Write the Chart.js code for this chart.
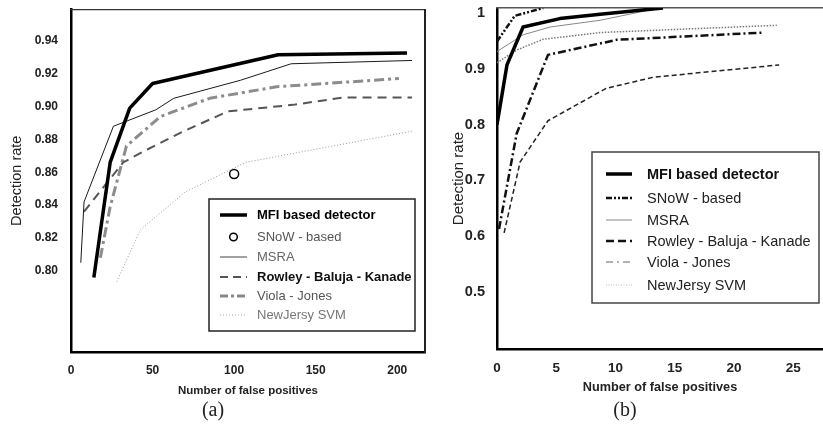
<!DOCTYPE html>
<html><head><meta charset="utf-8">
<script src="https://cdn.jsdelivr.net/npm/chart.js@4/dist/chart.umd.min.js"></script>
<style>
html,body{margin:0;padding:0;background:#fff;width:823px;height:439px;overflow:hidden;position:relative;}
canvas{position:absolute;top:0;}
#ca{left:0;} #cb{left:438px;}
.cap{position:absolute;top:398px;font-family:"Liberation Serif","DejaVu Serif",serif;font-size:20px;color:#222;transform:translateX(-50%);}
</style></head><body>
<canvas id="ca" width="438" height="400"></canvas>
<canvas id="cb" width="385" height="400"></canvas>
<div class="cap" style="left:213px">(a)</div>
<div class="cap" style="left:625px">(b)</div>
<script>
// ---------- (a) data ----------
const aXTicks = [0, 50, 100, 150, 200];
const aXTickLabels = ['0', '50', '100', '150', '200'];
const aYTicks = [0.80, 0.82, 0.84, 0.86, 0.88, 0.90, 0.92, 0.94];
const aYTickLabels = ['0.80', '0.82', '0.84', '0.86', '0.88', '0.90', '0.92', '0.94'];
const aMfiX = [14, 24, 36, 50, 127, 206];
const aMfiY = [0.796, 0.866, 0.899, 0.914, 0.9315, 0.9325];
const aSnowX = [100];
const aSnowY = [0.859];
const aMsraX = [6, 8, 26, 52, 63, 104, 135, 209];
const aMsraY = [0.805, 0.842, 0.888, 0.898, 0.905, 0.916, 0.926, 0.928];
const aRowleyX = [8, 32, 47, 67, 96, 136, 167, 209];
const aRowleyY = [0.836, 0.866, 0.874, 0.884, 0.897, 0.901, 0.9055, 0.9055];
const aViolaX = [18, 24, 34, 55, 85, 126, 201];
const aViolaY = [0.808, 0.839, 0.876, 0.894, 0.905, 0.912, 0.917];
const aSvmX = [28, 42.5, 70, 107, 209];
const aSvmY = [0.7935, 0.825, 0.848, 0.866, 0.885];

// ---------- (b) data ----------
const bXTicks = [0, 5, 10, 15, 20, 25];
const bXTickLabels = ['0', '5', '10', '15', '20', '25'];
const bYTicks = [0.5, 0.6, 0.7, 0.8, 0.9, 1.0];
const bYTickLabels = ['0.5', '0.6', '0.7', '0.8', '0.9', '1'];
const bMfiX = [0, 0.84, 2.2, 5.3, 8.7, 14.0];
const bMfiY = [0.80, 0.907, 0.975, 0.99, 0.998, 1.009];
const bSnowX = [0, 1.5, 3.9];
const bSnowY = [0.949, 0.995, 1.009];
const bMsraX = [0, 2.2, 4.5, 8.7, 13.7];
const bMsraY = [0.931, 0.961, 0.975, 0.987, 1.009];
const bRowleyX = [0.6, 1.95, 4.3, 9.2, 13.2, 23.8];
const bRowleyY = [0.606, 0.733, 0.807, 0.865, 0.885, 0.907];
const bViolaX = [0.17, 1.66, 4.3, 10.1, 22.5];
const bViolaY = [0.613, 0.784, 0.925, 0.952, 0.965];
const bSvmX = [0, 1.7, 3.9, 8.7, 23.6];
const bSvmY = [0.911, 0.934, 0.953, 0.965, 0.978];

const seriesNames = ['MFI based detector', 'SNoW - based', 'MSRA', 'Rowley - Baluja - Kanade', 'Viola - Jones', 'NewJersy SVM'];

const FONT = '"Liberation Sans", Arial, sans-serif';
const zip = (xs, ys) => xs.map((x, i) => ({x, y: ys[i]}));

function line(label, xs, ys, color, width, dash) {
  return {label, data: zip(xs, ys), borderColor: color, backgroundColor: color, borderWidth: width,
    borderDash: dash || [], pointRadius: 0, tension: 0, fill: false, borderJoinStyle: 'round'};
}

const boxLegend = {
  id: 'boxLegend',
  afterDraw(chart, args, o) {
    const ctx = chart.ctx;
    ctx.save();
    ctx.strokeStyle = o.borderColor; ctx.lineWidth = o.borderWidth;
    ctx.fillStyle = '#fff';
    ctx.fillRect(o.box[0], o.box[1], o.box[2], o.box[3]);
    ctx.strokeRect(o.box[0], o.box[1], o.box[2], o.box[3]);
    o.items.forEach((it, i) => {
      const y = o.rows[i];
      const s = it.sample;
      ctx.save();
      if (s.type === 'circle') {
        ctx.beginPath();
        ctx.arc((o.sx0 + o.sx1) / 2, y, s.r, 0, Math.PI * 2);
        ctx.fillStyle = '#fff'; ctx.fill();
        ctx.strokeStyle = s.color; ctx.lineWidth = s.width; ctx.setLineDash([]); ctx.stroke();
      } else {
        ctx.beginPath();
        ctx.moveTo(o.sx0, y); ctx.lineTo(o.sx1, y);
        ctx.strokeStyle = s.color; ctx.lineWidth = s.width; ctx.setLineDash(s.dash || []);
        ctx.stroke();
      }
      ctx.restore();
      ctx.fillStyle = it.color;
      ctx.font = (it.bold ? 'bold ' : '') + o.fontSize + 'px ' + FONT;
      ctx.textBaseline = 'middle'; ctx.textAlign = 'left';
      ctx.fillText(it.label, o.tx, y + 0.5);
    });
    ctx.restore();
  }
};

function noPad(s) { s.paddingTop = 0; s.paddingBottom = 0; s.paddingLeft = 0; s.paddingRight = 0; }

function frameAxis(pos, color, width) {
  const horiz = pos === 'top' || pos === 'bottom';
  return {type: 'linear', position: pos, display: true, min: 0, max: 1,
    grid: {display: false, drawTicks: false}, ticks: {display: false},
    border: {display: true, color, width},
    afterFit: s => { if (horiz) s.height = 0; else s.width = 0; noPad(s); }};
}

// ---------- chart (a) ----------
new Chart(document.getElementById('ca'), {
  type: 'line',
  data: {datasets: [
    line(seriesNames[0], aMfiX, aMfiY, '#000', 3.5),
    {label: seriesNames[1], data: zip(aSnowX, aSnowY), showLine: false, pointRadius: 4.5, pointStyle: 'circle',
      pointBorderColor: '#000', pointBackgroundColor: '#fff', pointBorderWidth: 1.5, borderColor: '#000'},
    line(seriesNames[2], aMsraX, aMsraY, '#1a1a1a', 1),
    line(seriesNames[3], aRowleyX, aRowleyY, '#555', 2, [9, 6]),
    line(seriesNames[4], aViolaX, aViolaY, '#8c8c8c', 3, [10, 4, 3, 4]),
    line(seriesNames[5], aSvmX, aSvmY, '#9a9a9a', 1, [1, 2])
  ]},
  options: {
    responsive: false, animation: false, devicePixelRatio: 1,
    layout: {padding: {top: 9.5, right: 13, left: 0, bottom: 0}},
    plugins: {legend: {display: false}, tooltip: {enabled: false},
      boxLegend: {
        box: [209, 199, 206, 132], borderColor: '#222', borderWidth: 1.5,
        rows: [215, 237, 257, 277, 296, 315], sx0: 220, sx1: 247, tx: 257, fontSize: 13,
        items: [
          {label: seriesNames[0], color: '#000', bold: true, sample: {color: '#000', width: 3.5}},
          {label: seriesNames[1], color: '#555', sample: {type: 'circle', r: 3.8, color: '#000', width: 1.5}},
          {label: seriesNames[2], color: '#666', sample: {color: '#444', width: 1}},
          {label: seriesNames[3], color: '#111', bold: true, sample: {color: '#555', width: 2, dash: [8, 5]}},
          {label: seriesNames[4], color: '#555', sample: {color: '#888', width: 3, dash: [8, 3, 3, 3]}},
          {label: seriesNames[5], color: '#777', sample: {color: '#aaa', width: 1, dash: [1, 2]}}
        ]}},
    scales: {
      x: {type: 'linear', min: 0, max: 217,
        afterBuildTicks: s => { s.ticks = aXTicks.map(v => ({value: v})); },
        afterFit: s => { s.height = 48; noPad(s); },
        grid: {display: false, drawTicks: false},
        border: {display: true, color: '#000', width: 2.5},
        ticks: {padding: 11, color: '#222', font: {family: FONT, size: 12, weight: 'bold'},
          maxRotation: 0, autoSkip: false, callback: (v, i) => aXTickLabels[i]},
        title: {display: true, text: 'Number of false positives', color: '#222',
          font: {family: FONT, size: 11.5, weight: 'bold'}, padding: {top: 0, bottom: 2}}},
      y: {type: 'linear', min: 0.7507, max: 0.959,
        afterBuildTicks: s => { s.ticks = aYTicks.map(v => ({value: v})); },
        afterFit: s => { s.width = 71; noPad(s); },
        grid: {display: false, drawTicks: false},
        border: {display: true, color: '#000', width: 2.5},
        ticks: {padding: 13, color: '#222', font: {family: FONT, size: 12, weight: 'bold'},
          autoSkip: false, callback: (v, i) => aYTickLabels[i]},
        title: {display: true, text: 'Detection rate', color: '#222',
          font: {family: FONT, size: 14.5}, padding: {top: 8.3, bottom: 0}}},
      xTop: frameAxis('top', '#333', 1.2),
      yRight: frameAxis('right', '#222', 2)
    }
  },
  plugins: [boxLegend]
});

// ---------- chart (b) ----------
new Chart(document.getElementById('cb'), {
  type: 'line',
  data: {datasets: [
    line(seriesNames[0], bMfiX, bMfiY, '#000', 3.5),
    line(seriesNames[1], bSnowX, bSnowY, '#111', 2.5, [6, 2, 2, 2, 2, 2]),
    line(seriesNames[2], bMsraX, bMsraY, '#888', 1),
    line(seriesNames[3], bRowleyX, bRowleyY, '#222', 1.5, [5, 3]),
    line(seriesNames[4], bViolaX, bViolaY, '#111', 2.5, [8, 3, 2, 3]),
    line(seriesNames[5], bSvmX, bSvmY, '#777', 1.5, [1.5, 1.5])
  ]},
  options: {
    responsive: false, animation: false, devicePixelRatio: 1,
    layout: {padding: {top: 8, right: 0, left: 0, bottom: 0}},
    plugins: {legend: {display: false}, tooltip: {enabled: false},
      boxLegend: {
        box: [154, 152, 227, 151], borderColor: '#444', borderWidth: 1.5,
        rows: [174, 198, 220, 241, 262, 285], sx0: 168, sx1: 194, tx: 209, fontSize: 14.5,
        items: [
          {label: seriesNames[0], color: '#111', bold: true, sample: {color: '#000', width: 3.5}},
          {label: seriesNames[1], color: '#222', sample: {color: '#111', width: 2.5, dash: [6, 2, 2, 2, 2, 2]}},
          {label: seriesNames[2], color: '#222', sample: {color: '#888', width: 1}},
          {label: seriesNames[3], color: '#222', sample: {color: '#111', width: 2.5, dash: [8, 4]}},
          {label: seriesNames[4], color: '#222', sample: {color: '#999', width: 1.5, dash: [7, 4, 2, 4]}},
          {label: seriesNames[5], color: '#222', sample: {color: '#bbb', width: 1, dash: [1, 1.5]}}
        ]}},
    scales: {
      x: {type: 'linear', min: 0, max: 27.5,
        afterBuildTicks: s => { s.ticks = bXTicks.map(v => ({value: v})); },
        afterFit: s => { s.height = 51; noPad(s); },
        grid: {display: false, drawTicks: false},
        border: {display: true, color: '#000', width: 2.5},
        ticks: {padding: 11, color: '#222', font: {family: FONT, size: 13.5, weight: 'bold'},
          maxRotation: 0, autoSkip: false, callback: (v, i) => bXTickLabels[i]},
        title: {display: true, text: 'Number of false positives', color: '#222',
          font: {family: FONT, size: 12.7, weight: 'bold'}, padding: {top: 0, bottom: 4.4}}},
      y: {type: 'linear', min: 0.398, max: 1.009,
        afterBuildTicks: s => { s.ticks = bYTicks.map(v => ({value: v})); },
        afterFit: s => { s.width = 59; noPad(s); },
        grid: {display: false, drawTicks: false},
        border: {display: true, color: '#000', width: 2.5},
        ticks: {padding: 12, color: '#222', font: {family: FONT, size: 14.5, weight: 'bold'},
          autoSkip: false, callback: (v, i) => bYTickLabels[i]},
        title: {display: true, text: 'Detection rate', color: '#222',
          font: {family: FONT, size: 15}, padding: {top: 12, bottom: 0}}},
      xTop: frameAxis('top', '#555', 1.5)
    }
  },
  plugins: [boxLegend]
});
</script>
</body></html>
